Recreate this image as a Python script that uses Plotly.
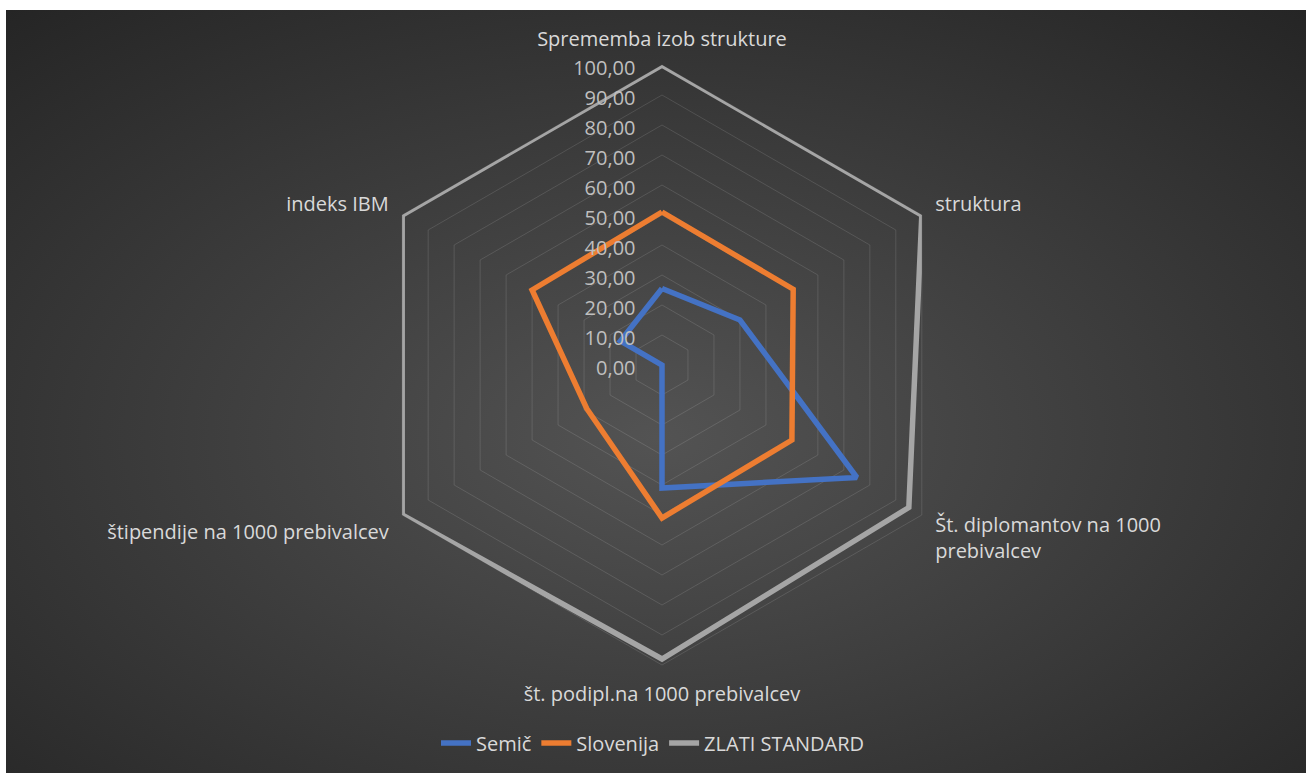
''' Radar chart: Semič vs Slovenija vs ZLATI STANDARD '''
import base64
import plotly.graph_objects as go

categories = [
    'Sprememba izob strukture',
    'struktura',
    'Št. diplomantov na 1000<br>prebivalcev',
    'št. podipl.na 1000 prebivalcev',
    'štipendije na 1000 prebivalcev',
    'indeks IBM',
]
semic = [25.5, 30, 75, 41, 0, 16]
slovenija = [51, 50.5, 50, 51, 29, 50]
zlati_standard = [100, 100, 95, 98, 100, 100]

series_names = ['Semič', 'Slovenija', 'ZLATI STANDARD']
series_colors = ['#4472C4', '#ED7D31', '#A5A5A5']

W, H = 1306, 773
FONT = 'Open Sans'

# dark radial gradient background (svg data uri)
svg = (
    '<svg xmlns="http://www.w3.org/2000/svg" width="1300" height="763" '
    'preserveAspectRatio="none">'
    '<defs><radialGradient id="g" cx="50%" cy="56%" r="75%">'
    '<stop offset="0" stop-color="#535353"/>'
    '<stop offset="1" stop-color="#252525"/>'
    '</radialGradient></defs>'
    '<rect width="1300" height="763" fill="url(#g)"/></svg>'
)
bg_src = 'data:image/svg+xml;base64,' + base64.b64encode(svg.encode()).decode()

fig = go.Figure()

for name, vals, col in zip(series_names, [semic, slovenija, zlati_standard], series_colors):
    fig.add_trace(
        go.Scatterpolar(
            r = vals + vals[:1],
            theta = categories + categories[:1],
            name = name,
            mode = 'lines',
            line = dict(color=col, width=5.5),
            cliponaxis = False
        )
    )

cx, cy, R = 662, 365, 300

fig.update_layout(
    width = W,
    height = H,
    margin = dict(l=0, r=0, t=0, b=0),
    paper_bgcolor = 'white',
    separators = ', ',
    font = dict(family=FONT, size=20, color='#d9d9d9'),
    images = [dict(
        source = bg_src,
        xref = 'paper', yref = 'paper',
        x = 6 / W, y = 1 - 10 / H,
        sizex = 1 - 6 / W, sizey = 1 - 10 / H,
        xanchor = 'left', yanchor = 'top',
        sizing = 'stretch',
        layer = 'below'
    )],
    polar = dict(
        domain = dict(
            x = [(cx - R) / W, (cx + R) / W],
            y = [1 - (cy + R) / H, 1 - (cy - R) / H]
        ),
        bgcolor = 'rgba(0,0,0,0)',
        gridshape = 'linear',
        radialaxis = dict(
            range = [0, 100],
            dtick = 10,
            tickformat = '.2f',
            angle = 90,
            side = 'counterclockwise',
            showline = False,
            ticks = 'outside',
            ticklen = 8,
            tickcolor = 'rgba(0,0,0,0)',
            gridcolor = 'rgba(255,255,255,0.12)',
            gridwidth = 1,
            tickfont = dict(family=FONT, size=20, color='#bfbfbf')
        ),
        angularaxis = dict(
            rotation = 90,
            direction = 'clockwise',
            showgrid = False,
            showline = True,
            linecolor = 'rgba(255,255,255,0.12)',
            linewidth = 1,
            ticks = 'outside',
            ticklen = 11,
            tickcolor = 'rgba(0,0,0,0)',
            tickfont = dict(family=FONT, size=20, color='#d9d9d9')
        )
    ),
    legend = dict(
        orientation = 'h',
        x = 0.5,
        xanchor = 'center',
        y = 1 - 743 / H,
        yanchor = 'middle',
        bgcolor = 'rgba(0,0,0,0)',
        font = dict(family=FONT, size=20, color='#d9d9d9')
    )
)

fig.write_html(
    'out.html',
    config = {'displayModeBar': False},
    post_script = "document.body.style.margin='0';"
)
